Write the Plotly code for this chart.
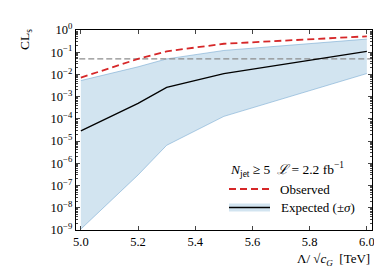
import plotly.graph_objects as go

mass = [5.0, 5.2, 5.3, 5.5, 6.0]
observed = [7.2e-3, 5.0e-2, 1.1e-1, 2.4e-1, 5.2e-1]
expected = [2.9e-5, 5.0e-4, 2.6e-3, 1.1e-2, 1.1e-1]
band_up = [5.3e-3, 2.2e-2, 5.0e-2, 1.2e-1, 3.9e-1]
band_lo = [1.1e-9, 3.0e-7, 6.5e-6, 1.3e-4, 1.1e-2]
cls_line = 0.05
x_ticks = [5.0, 5.2, 5.4, 5.6, 5.8, 6.0]
y_exps = list(range(-9, 1))

FONT = "Liberation Serif"
W, H = 382, 278
L, R, T, B = 68, 18, 22, 56
pw, ph = W - L - R, H - T - B

def px(x):
    return (x - L) / pw

def py(y):
    return (H - B - y) / ph

fig = go.Figure()
fig.add_trace(go.Scatter(x=mass, y=band_lo, mode="lines",
                         line=dict(color="rgba(120,170,210,0.6)", width=1),
                         showlegend=False, hoverinfo="skip"))
fig.add_trace(go.Scatter(x=mass, y=band_up, mode="lines", fill="tonexty",
                         fillcolor="rgba(31,119,180,0.2)",
                         line=dict(color="rgba(120,170,210,0.6)", width=1),
                         showlegend=False, hoverinfo="skip"))
fig.add_trace(go.Scatter(x=[4.9, 6.1], y=[cls_line, cls_line], mode="lines",
                         line=dict(color="#8c8c8c", width=1.2, dash="6px,3px"),
                         showlegend=False))
fig.add_trace(go.Scatter(x=mass, y=expected, mode="lines",
                         line=dict(color="black", width=1.3), showlegend=False))
fig.add_trace(go.Scatter(x=mass, y=observed, mode="lines",
                         line=dict(color="#d62728", width=1.8, dash="7px,4px"),
                         showlegend=False))

minor_vals = [m * 10.0 ** e for e in range(-9, 0) for m in range(2, 10)]

fig.update_layout(
    width=W, height=H, margin=dict(l=L, r=R, t=T, b=B),
    paper_bgcolor="white", plot_bgcolor="white",
    font=dict(family=FONT, size=12, color="black"),
    xaxis=dict(range=[4.983, 6.018], tickvals=x_ticks,
               ticktext=[f"{v:.1f}" for v in x_ticks],
               ticks="inside", ticklen=4, showline=True, linecolor="black",
               linewidth=1.2, mirror="allticks", showgrid=False, zeroline=False,
               tickfont=dict(size=12.5)),
    yaxis=dict(type="log", range=[-9, 0],
               tickvals=[10.0 ** e for e in y_exps],
               ticktext=[f"10<sup>{'−' + str(-e) if e < 0 else str(e)}</sup>" for e in y_exps],
               ticks="inside", ticklen=4, showline=True, linecolor="black",
               linewidth=1.2, mirror="allticks", showgrid=False, zeroline=False,
               tickfont=dict(size=12.5),
               minor=dict(tickvals=minor_vals, ticks="inside", ticklen=2,
                          showgrid=False)),
)

anns = [
    dict(x=px(17), y=py(32), text="CL<sub>s</sub>", textangle=-90,
         xanchor="center", font=dict(size=13.5)),
    dict(x=px(364), y=py(252), text="Λ/ √<i>c</i><sub><i>G</i></sub>  [TeV]",
         xanchor="right", font=dict(size=13)),
    dict(x=px(220), y=py(161), text="<i>N</i><sub>jet</sub> ≥ 5  <i>ℒ</i> = 2.2 fb<sup>−1</sup>",
         xanchor="left", font=dict(size=13.5)),
    dict(x=px(270), y=py(181), text="Observed", xanchor="left", font=dict(size=13)),
    dict(x=px(271), y=py(199.5), text="Expected (±<i>σ</i>)", xanchor="left",
         font=dict(size=13)),
]
for a in anns:
    a.update(xref="paper", yref="paper", showarrow=False, yanchor="middle")
fig.update_layout(annotations=anns)

shapes = [
    dict(type="line", xref="paper", yref="paper", x0=px(221), x1=px(262),
         y0=py(181), y1=py(181), line=dict(color="#d62728", width=1.8, dash="7px,4px")),
    dict(type="rect", xref="paper", yref="paper", x0=px(221), x1=px(262),
         y0=py(195.5), y1=py(203.5), fillcolor="rgba(31,119,180,0.2)",
         line=dict(width=0)),
    dict(type="line", xref="paper", yref="paper", x0=px(221), x1=px(262),
         y0=py(199.5), y1=py(199.5), line=dict(color="black", width=1.3)),
]
fig.update_layout(shapes=shapes)

fig.write_html("out.html")
